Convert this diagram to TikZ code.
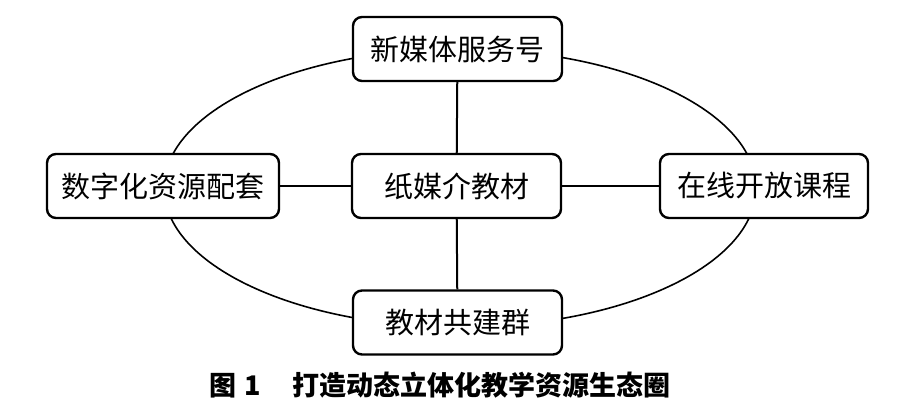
\documentclass[tikz,border=0pt]{standalone}
\usepackage{fontspec}
\newfontfamily\cjk{Noto Sans CJK SC}
\begin{document}
\begin{tikzpicture}[x=1pt,y=-1pt,
  box/.style={draw, line width=2.4pt, rounded corners=9pt, fill=white, inner sep=0pt,
    minimum height=64pt, font=\cjk\fontsize{29}{29}\selectfont},
  link/.style={line width=2pt},
  ring/.style={line width=1.6pt}]
\useasboundingbox (0,0) rectangle (900,406);
\draw[ring] (460,188) ellipse [x radius=296, y radius=139];
\node[box, minimum width=209pt] (top) at (457.5,49) {新媒体服务号};
\node[box, minimum width=209pt] (mid) at (456.5,186) {纸媒介教材};
\node[box, minimum width=232pt] (left) at (163,186) {数字化资源配套};
\node[box, minimum width=208pt] (right) at (764,186) {在线开放课程};
\node[box, minimum width=209pt] (bot) at (457.5,322.5) {教材共建群};
\draw[link] (top) -- (mid);
\draw[link] (mid) -- (bot);
\draw[link] (left) -- (mid);
\draw[link] (mid) -- (right);
\node[font=\cjk\bfseries\fontsize{27}{27}\selectfont, inner sep=0pt] (cap) at (440,385) {图\hspace{0.3em}1\hspace{1.2em}打造动态立体化教学资源生态圈};
\end{tikzpicture}
\end{document}
